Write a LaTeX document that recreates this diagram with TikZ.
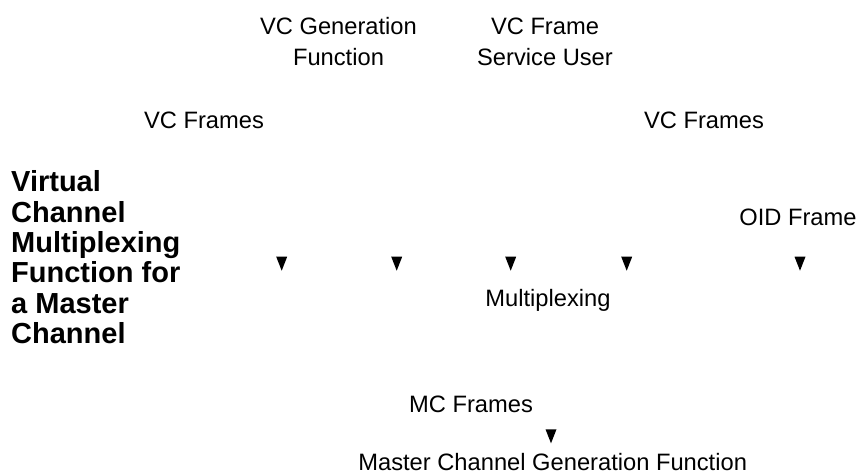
\documentclass[tikz,border=0pt]{standalone}
\usepackage{fontspec}
\setmainfont{Liberation Sans}
\newfontfamily\titlefont{Liberation Sans Bold}
\begin{document}
\begin{tikzpicture}[x=1pt,y=-1pt,
  lbl/.style={inner sep=0pt, anchor=base, align=center,
    font=\fontsize{23.7}{31.4}\selectfont},
  ttl/.style={inner sep=0pt, anchor=base west, align=left,
    font=\titlefont\fontsize{29}{30.3}\selectfont},
  tri/.style={fill=black}]
\useasboundingbox (0,0) rectangle (861,474);
% labels (anchor = baseline of the last line)
\node[lbl] (vcgen) at (338.5,65.7) {VC Generation\\Function};
\node[lbl] (vcuser) at (545,65.7) {VC Frame\\Service User};
\node[lbl] (vcfl) at (204,128.3) {VC Frames};
\node[lbl] (vcfr) at (704,128.3) {VC Frames};
\node[lbl] (oid) at (798,225) {OID Frame};
\node[lbl] (mux) at (548,306.7) {Multiplexing};
\node[lbl] (mcf) at (471,412.7) {MC Frames};
\node[lbl] (mcgen) at (552.7,470) {Master Channel Generation Function};
\node[ttl] (title) at (11,343.3) {Virtual\\Channel\\Multiplexing\\Function for\\a Master\\Channel};
% triangles
\coordinate (t1) at (281.7,263.7);
\coordinate (t2) at (396.7,263.7);
\coordinate (t3) at (510.7,263.7);
\coordinate (t4) at (626.7,263.7);
\coordinate (t5) at (800,263.7);
\coordinate (t6) at (551,436.3);
\foreach \t in {t1,t2,t3,t4,t5,t6}
  \fill[tri,shift={(\t)}] (-5.5,-7) -- (5.5,-7) -- (0,7) -- cycle;
\end{tikzpicture}
\end{document}
